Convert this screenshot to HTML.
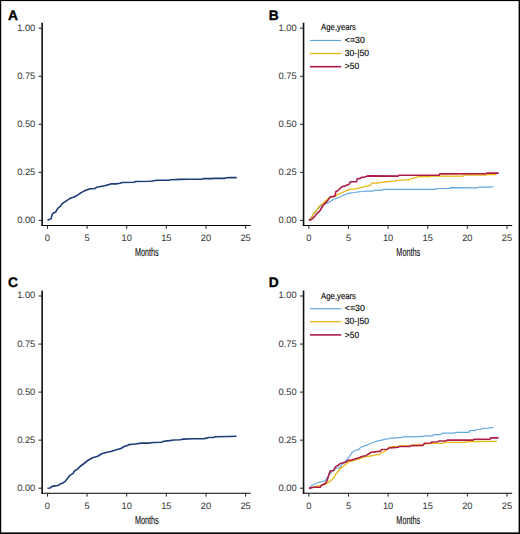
<!DOCTYPE html>
<html><head><meta charset="utf-8"><style>
html,body{margin:0;padding:0;background:#fff;}
body{width:520px;height:534px;overflow:hidden;}
svg{display:block;}
text{font-family:"Liberation Sans",sans-serif;text-rendering:geometricPrecision;}
.lt{font-size:13.8px;font-weight:bold;fill:#000;stroke:#000;stroke-width:0.35;}
.yl{font-size:9.3px;fill:#333;text-anchor:end;}
.xl{font-size:9.3px;fill:#333;text-anchor:middle;}
.mo{font-size:11.6px;fill:#111;stroke:#111;stroke-width:0.15;text-anchor:middle;}
.lg{font-size:9px;fill:#000;stroke:#000;stroke-width:0.12;}
.ax{stroke:#111;stroke-width:1.6;}
.ax2{stroke:#000;stroke-width:1.1;}
.tk{stroke:#222;stroke-width:1;}
polyline{fill:none;stroke-linejoin:round;stroke-linecap:butt;}
.na{stroke:#1e3c78;stroke-width:1.6;}
.cb{stroke:#66a8de;stroke-width:1.2;fill:none;}
.cy{stroke:#e7b712;stroke-width:1.3;fill:none;}
.cr{stroke:#ae1c45;stroke-width:1.6;fill:none;}
</style></head><body>
<svg width="520" height="534" viewBox="0 0 520 534">
<rect x="0" y="0" width="1.2" height="534" fill="#000"/><rect x="0" y="0" width="520" height="1.1" fill="#000"/><rect x="518.6" y="0" width="1.4" height="534" fill="#000"/><rect x="0" y="532.4" width="520" height="1.6" fill="#000"/>
<g transform="translate(0.00,0.00)">
<text x="8" y="19.8" class="lt">A</text>
<line x1="42.15" y1="22.7" x2="42.15" y2="226" class="ax"/>
<line x1="41.5" y1="225.5" x2="250.8" y2="225.5" class="ax2"/>
<line x1="38.6" y1="220.40" x2="42" y2="220.40" class="tk"/>
<text x="35.3" y="222.90" class="yl">0.00</text>
<line x1="38.6" y1="172.35" x2="42" y2="172.35" class="tk"/>
<text x="35.3" y="174.85" class="yl">0.25</text>
<line x1="38.6" y1="124.30" x2="42" y2="124.30" class="tk"/>
<text x="35.3" y="126.80" class="yl">0.50</text>
<line x1="38.6" y1="76.25" x2="42" y2="76.25" class="tk"/>
<text x="35.3" y="78.75" class="yl">0.75</text>
<line x1="38.6" y1="28.20" x2="42" y2="28.20" class="tk"/>
<text x="35.3" y="30.70" class="yl">1.00</text>
<line x1="47.45" y1="225.5" x2="47.45" y2="228.8" class="tk"/>
<text x="47.45" y="241.0" class="xl">0</text>
<line x1="87.08" y1="225.5" x2="87.08" y2="228.8" class="tk"/>
<text x="87.08" y="241.0" class="xl">5</text>
<line x1="126.71" y1="225.5" x2="126.71" y2="228.8" class="tk"/>
<text x="126.71" y="241.0" class="xl">10</text>
<line x1="166.34" y1="225.5" x2="166.34" y2="228.8" class="tk"/>
<text x="166.34" y="241.0" class="xl">15</text>
<line x1="205.97" y1="225.5" x2="205.97" y2="228.8" class="tk"/>
<text x="205.97" y="241.0" class="xl">20</text>
<line x1="245.60" y1="225.5" x2="245.60" y2="228.8" class="tk"/>
<text x="245.60" y="241.0" class="xl">25</text>
<text x="146.85" y="256.0" class="mo" textLength="23.8" lengthAdjust="spacingAndGlyphs">Months</text>
</g>
<g transform="translate(261.40,0.00)">
<text x="7.4" y="19.7" class="lt">B</text>
<line x1="42.15" y1="22.7" x2="42.15" y2="226" class="ax"/>
<line x1="41.5" y1="225.5" x2="250.8" y2="225.5" class="ax2"/>
<line x1="38.6" y1="220.40" x2="42" y2="220.40" class="tk"/>
<text x="35.3" y="222.90" class="yl">0.00</text>
<line x1="38.6" y1="172.35" x2="42" y2="172.35" class="tk"/>
<text x="35.3" y="174.85" class="yl">0.25</text>
<line x1="38.6" y1="124.30" x2="42" y2="124.30" class="tk"/>
<text x="35.3" y="126.80" class="yl">0.50</text>
<line x1="38.6" y1="76.25" x2="42" y2="76.25" class="tk"/>
<text x="35.3" y="78.75" class="yl">0.75</text>
<line x1="38.6" y1="28.20" x2="42" y2="28.20" class="tk"/>
<text x="35.3" y="30.70" class="yl">1.00</text>
<line x1="47.45" y1="225.5" x2="47.45" y2="228.8" class="tk"/>
<text x="47.45" y="241.0" class="xl">0</text>
<line x1="87.08" y1="225.5" x2="87.08" y2="228.8" class="tk"/>
<text x="87.08" y="241.0" class="xl">5</text>
<line x1="126.71" y1="225.5" x2="126.71" y2="228.8" class="tk"/>
<text x="126.71" y="241.0" class="xl">10</text>
<line x1="166.34" y1="225.5" x2="166.34" y2="228.8" class="tk"/>
<text x="166.34" y="241.0" class="xl">15</text>
<line x1="205.97" y1="225.5" x2="205.97" y2="228.8" class="tk"/>
<text x="205.97" y="241.0" class="xl">20</text>
<line x1="245.60" y1="225.5" x2="245.60" y2="228.8" class="tk"/>
<text x="245.60" y="241.0" class="xl">25</text>
<text x="146.85" y="256.0" class="mo" textLength="23.8" lengthAdjust="spacingAndGlyphs">Months</text>
</g>
<g transform="translate(0.00,267.80)">
<text x="8" y="19.2" class="lt">C</text>
<line x1="42.15" y1="22.7" x2="42.15" y2="226" class="ax"/>
<line x1="41.5" y1="225.5" x2="250.8" y2="225.5" class="ax2"/>
<line x1="38.6" y1="220.40" x2="42" y2="220.40" class="tk"/>
<text x="35.3" y="222.90" class="yl">0.00</text>
<line x1="38.6" y1="172.35" x2="42" y2="172.35" class="tk"/>
<text x="35.3" y="174.85" class="yl">0.25</text>
<line x1="38.6" y1="124.30" x2="42" y2="124.30" class="tk"/>
<text x="35.3" y="126.80" class="yl">0.50</text>
<line x1="38.6" y1="76.25" x2="42" y2="76.25" class="tk"/>
<text x="35.3" y="78.75" class="yl">0.75</text>
<line x1="38.6" y1="28.20" x2="42" y2="28.20" class="tk"/>
<text x="35.3" y="30.70" class="yl">1.00</text>
<line x1="47.45" y1="225.5" x2="47.45" y2="228.8" class="tk"/>
<text x="47.45" y="241.0" class="xl">0</text>
<line x1="87.08" y1="225.5" x2="87.08" y2="228.8" class="tk"/>
<text x="87.08" y="241.0" class="xl">5</text>
<line x1="126.71" y1="225.5" x2="126.71" y2="228.8" class="tk"/>
<text x="126.71" y="241.0" class="xl">10</text>
<line x1="166.34" y1="225.5" x2="166.34" y2="228.8" class="tk"/>
<text x="166.34" y="241.0" class="xl">15</text>
<line x1="205.97" y1="225.5" x2="205.97" y2="228.8" class="tk"/>
<text x="205.97" y="241.0" class="xl">20</text>
<line x1="245.60" y1="225.5" x2="245.60" y2="228.8" class="tk"/>
<text x="245.60" y="241.0" class="xl">25</text>
<text x="146.85" y="256.0" class="mo" textLength="23.8" lengthAdjust="spacingAndGlyphs">Months</text>
</g>
<g transform="translate(261.40,267.80)">
<text x="7.4" y="18.9" class="lt">D</text>
<line x1="42.15" y1="22.7" x2="42.15" y2="226" class="ax"/>
<line x1="41.5" y1="225.5" x2="250.8" y2="225.5" class="ax2"/>
<line x1="38.6" y1="220.40" x2="42" y2="220.40" class="tk"/>
<text x="35.3" y="222.90" class="yl">0.00</text>
<line x1="38.6" y1="172.35" x2="42" y2="172.35" class="tk"/>
<text x="35.3" y="174.85" class="yl">0.25</text>
<line x1="38.6" y1="124.30" x2="42" y2="124.30" class="tk"/>
<text x="35.3" y="126.80" class="yl">0.50</text>
<line x1="38.6" y1="76.25" x2="42" y2="76.25" class="tk"/>
<text x="35.3" y="78.75" class="yl">0.75</text>
<line x1="38.6" y1="28.20" x2="42" y2="28.20" class="tk"/>
<text x="35.3" y="30.70" class="yl">1.00</text>
<line x1="47.45" y1="225.5" x2="47.45" y2="228.8" class="tk"/>
<text x="47.45" y="241.0" class="xl">0</text>
<line x1="87.08" y1="225.5" x2="87.08" y2="228.8" class="tk"/>
<text x="87.08" y="241.0" class="xl">5</text>
<line x1="126.71" y1="225.5" x2="126.71" y2="228.8" class="tk"/>
<text x="126.71" y="241.0" class="xl">10</text>
<line x1="166.34" y1="225.5" x2="166.34" y2="228.8" class="tk"/>
<text x="166.34" y="241.0" class="xl">15</text>
<line x1="205.97" y1="225.5" x2="205.97" y2="228.8" class="tk"/>
<text x="205.97" y="241.0" class="xl">20</text>
<line x1="245.60" y1="225.5" x2="245.60" y2="228.8" class="tk"/>
<text x="245.60" y="241.0" class="xl">25</text>
<text x="146.85" y="256.0" class="mo" textLength="23.8" lengthAdjust="spacingAndGlyphs">Months</text>
</g>
<g transform="translate(0.00,0.00)">
<text x="321.1" y="30.4" class="lg" textLength="34.9" lengthAdjust="spacingAndGlyphs">Age,years</text>
<line x1="310" y1="40.5" x2="341.2" y2="40.5" class="cb"/>
<text x="344.8" y="43.2" class="lg" textLength="20" lengthAdjust="spacingAndGlyphs">&lt;=30</text>
<line x1="310" y1="53.5" x2="341.2" y2="53.5" class="cy"/>
<text x="344.8" y="56.2" class="lg" textLength="24.2" lengthAdjust="spacingAndGlyphs">30-|50</text>
<line x1="310" y1="66.7" x2="341.2" y2="66.7" class="cr"/>
<text x="344.8" y="69.4" class="lg" textLength="14.3" lengthAdjust="spacingAndGlyphs">&gt;50</text>
</g>
<g transform="translate(0.00,268.20)">
<text x="321.1" y="30.4" class="lg" textLength="34.9" lengthAdjust="spacingAndGlyphs">Age,years</text>
<line x1="310" y1="40.5" x2="341.2" y2="40.5" class="cb"/>
<text x="344.8" y="43.2" class="lg" textLength="20" lengthAdjust="spacingAndGlyphs">&lt;=30</text>
<line x1="310" y1="53.5" x2="341.2" y2="53.5" class="cy"/>
<text x="344.8" y="56.2" class="lg" textLength="24.2" lengthAdjust="spacingAndGlyphs">30-|50</text>
<line x1="310" y1="66.7" x2="341.2" y2="66.7" class="cr"/>
<text x="344.8" y="69.4" class="lg" textLength="14.3" lengthAdjust="spacingAndGlyphs">&gt;50</text>
</g>
<polyline points="47.50,220.20 49.80,219.20 51.30,218.50 51.70,215.80 52.80,213.50 54.00,212.70 55.50,212.30 56.30,210.80 57.50,208.80 59.00,207.30 60.50,206.20 61.70,204.20 63.60,202.70 66.30,200.80 69.40,198.80 71.70,197.70 73.60,197.30 76.30,195.80 79.40,193.80 82.50,191.90 85.20,190.50 89.30,188.90 94.90,188.50 96.50,187.30 100.60,186.50 104.60,185.70 107.80,184.90 110.70,183.90 115.90,183.90 120.00,183.30 122.30,182.50 133.80,182.20 135.60,181.50 148.80,181.30 152.30,181.00 156.90,180.20 168.50,180.20 170.80,179.70 180.00,179.40 187.50,179.30 201.90,179.20 203.70,178.60 212.30,178.60 213.50,178.40 224.40,178.40 226.20,177.80 230.80,177.60 236.80,177.60" class="na"/>
<polyline points="47.50,488.20 50.20,488.00 51.60,486.60 54.40,485.90 57.90,485.50 59.90,484.20 62.70,483.10 64.80,481.70 66.90,479.30 68.90,476.50 70.30,475.20 73.10,473.40 74.10,471.30 75.90,470.00 77.90,468.90 80.00,466.50 84.00,463.50 87.80,460.50 92.50,457.70 97.80,456.20 101.70,453.80 107.10,452.30 111.70,451.20 116.30,449.70 120.90,448.50 124.60,446.30 127.50,445.50 128.70,444.60 135.00,444.00 141.30,443.10 148.80,443.10 153.50,442.50 161.50,442.30 163.80,441.20 169.60,440.60 174.20,440.00 180.00,439.80 183.50,439.10 192.70,438.80 204.20,438.60 208.80,437.50 213.50,437.50 214.60,436.80 228.50,436.50 236.50,436.20" class="na"/>
<polyline points="308.80,220.30 309.80,219.00 311.40,217.20 313.20,214.50 315.10,211.70 316.90,209.80 320.00,206.80 322.50,204.50 326.80,203.40 329.20,202.20 331.10,200.90 333.10,199.50 336.20,198.40 339.20,197.20 342.30,195.70 345.40,194.50 348.50,193.40 351.50,192.80 354.60,192.50 358.50,191.80 362.30,191.50 366.20,191.10 373.00,191.10 373.80,190.40 382.20,190.40 383.40,189.30 435.80,189.40 436.80,188.50 449.30,188.50 450.20,187.70 477.60,187.80 478.50,187.10 492.00,187.10 493.00,186.30 493.40,186.30" class="cb"/>
<polyline points="308.80,220.30 310.20,220.30 311.40,217.80 312.60,215.40 313.80,212.90 315.70,211.70 317.50,209.20 318.80,206.80 320.30,205.20 322.50,204.00 324.30,202.20 326.20,200.30 327.70,199.10 329.80,197.80 332.90,196.90 336.20,195.30 339.20,193.80 342.30,192.50 345.40,191.10 348.50,189.90 350.80,189.20 354.60,189.20 357.70,188.40 362.30,187.20 366.20,186.10 368.00,185.90 370.30,185.20 371.80,183.20 378.00,183.10 381.80,182.30 388.00,181.50 394.90,181.10 396.50,180.30 401.80,180.20 403.40,179.80 408.90,179.90 410.80,178.90 413.70,178.20 416.60,177.30 418.50,176.70 430.00,176.70 431.00,176.10 463.10,176.10 464.60,175.10 485.70,175.00 487.20,174.50 496.30,174.50" class="cy"/>
<polyline points="308.90,220.30 310.80,219.70 312.00,219.10 313.20,217.80 314.80,216.30 315.70,215.10 317.20,213.20 319.10,211.70 320.30,210.20 321.50,208.00 323.10,205.50 324.60,203.70 326.20,202.20 327.70,200.60 328.60,199.10 329.20,197.80 330.50,196.90 332.30,196.60 335.00,196.10 335.80,191.80 337.70,190.70 339.60,188.80 342.30,186.50 345.00,186.10 346.50,185.30 349.20,184.20 350.40,181.70 356.50,181.70 357.30,178.80 359.20,178.80 361.90,177.20 364.60,177.10 367.70,175.90 398.00,176.10 399.20,175.20 439.20,175.30 439.70,173.90 486.20,173.80 486.70,173.10 498.70,173.10" class="cr"/>
<polyline points="308.80,488.30 310.20,487.80 311.60,485.40 313.70,484.70 316.50,483.30 319.20,482.20 322.00,481.50 324.80,480.90 326.50,478.80 327.90,476.70 329.60,474.60 331.00,472.90 332.40,471.50 334.50,469.40 336.90,468.00 338.00,467.80 340.30,467.30 341.80,464.60 344.20,462.70 346.50,460.00 348.80,457.30 350.70,454.60 352.20,452.30 354.50,450.80 356.50,450.00 358.80,449.60 360.30,447.70 363.40,446.20 366.50,445.40 369.50,443.80 372.60,442.70 375.70,441.50 379.10,440.70 382.90,439.90 384.50,439.20 389.10,438.80 390.20,438.20 396.00,438.20 397.20,437.60 401.40,437.60 402.50,436.80 416.90,436.60 423.60,436.40 424.60,435.80 432.30,435.80 433.20,434.80 440.90,434.30 442.80,433.10 454.40,433.10 455.30,432.40 468.70,432.40 469.60,430.70 474.90,430.70 476.30,429.50 481.20,429.30 482.10,428.40 488.80,428.10 489.80,427.60 493.20,427.70" class="cb"/>
<polyline points="308.80,488.40 309.50,488.40 315.10,486.50 319.20,486.00 322.70,485.00 324.80,484.70 327.50,482.90 330.30,480.90 332.40,479.10 334.50,476.70 335.90,473.90 337.20,472.20 338.00,471.50 340.30,468.50 343.40,466.20 346.50,463.80 348.80,461.90 351.80,461.20 354.90,460.20 358.00,459.20 361.10,458.10 364.20,456.90 367.20,456.30 370.30,456.00 373.40,455.40 376.00,454.80 379.10,454.50 380.20,453.40 382.90,452.50 384.50,451.50 386.00,450.30 389.10,447.20 393.70,446.60 398.30,446.30 399.80,445.80 409.80,445.80 412.20,444.80 423.60,444.60 425.50,443.90 431.30,443.30 442.80,443.30 445.70,442.30 465.80,442.40 467.70,441.50 497.00,441.40" class="cy"/>
<polyline points="308.80,488.30 310.90,487.90 313.00,487.20 320.30,487.10 321.30,485.40 323.40,484.30 325.50,483.30 326.90,480.90 327.90,478.10 328.90,474.60 330.30,470.80 333.80,470.50 334.80,467.70 336.50,466.00 338.00,465.60 340.30,463.50 342.60,462.90 345.70,462.30 348.00,460.40 351.10,460.20 353.40,459.60 356.50,458.50 359.50,457.50 362.60,456.30 365.70,455.80 368.00,454.20 371.10,452.30 374.90,451.90 376.00,451.80 380.60,451.10 381.80,449.50 387.50,449.20 388.70,448.00 392.90,447.60 398.30,447.20 399.10,446.50 409.80,446.50 411.00,445.70 422.70,445.40 424.60,443.30 430.30,443.00 432.30,442.00 438.00,441.70 439.00,441.00 445.70,441.00 447.20,440.10 473.20,440.10 473.90,439.20 490.20,439.20 490.80,437.90 498.50,437.90" class="cr"/>
</svg>
</body></html>
